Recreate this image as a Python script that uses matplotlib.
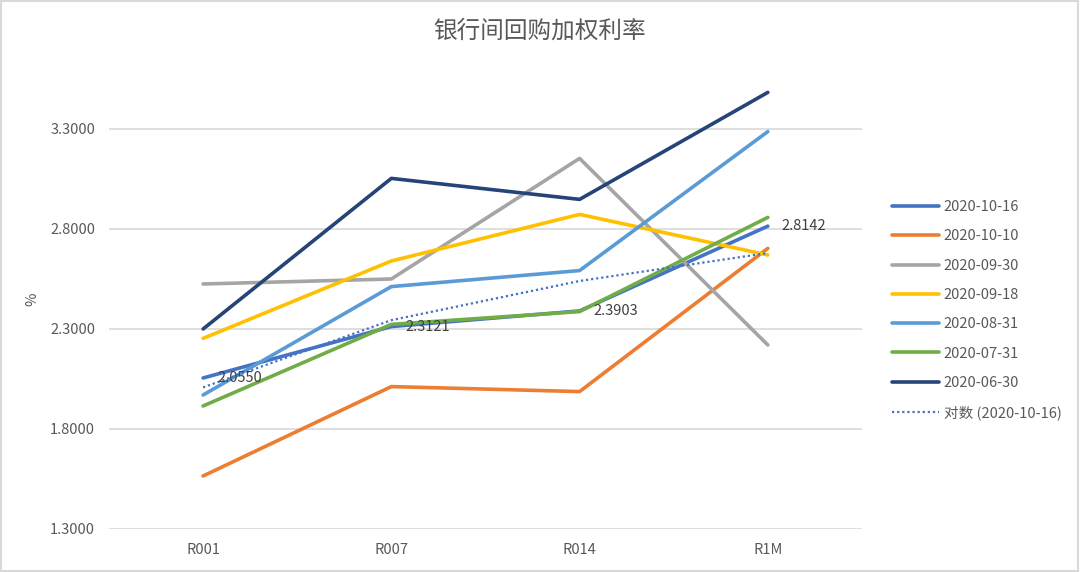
import matplotlib
matplotlib.use('Agg')
import matplotlib.pyplot as plt
from matplotlib.patches import Rectangle

plt.rcParams['font.family'] = ['Noto Sans CJK SC', 'DejaVu Sans']

# 期限
tenors = ['R001', 'R007', 'R014', 'R1M']

# 各日期加权利率 (%)
r_1016 = [2.0550, 2.3121, 2.3903, 2.8142]
r_1010 = [1.565, 2.012, 1.987, 2.703]
r_0930 = [2.525, 2.550, 3.153, 2.220]
r_0918 = [2.253, 2.640, 2.873, 2.670]
r_0831 = [1.970, 2.512, 2.592, 3.287]
r_0731 = [1.915, 2.323, 2.387, 2.858]
r_0630 = [2.300, 3.053, 2.948, 3.483]
# 对数趋势线 (2020-10-16), 读图
trend_1016 = [2.008, 2.344, 2.540, 2.680]

series_names = ['2020-10-16', '2020-10-10', '2020-09-30', '2020-09-18',
                '2020-08-31', '2020-07-31', '2020-06-30']
series_vals = [r_1016, r_1010, r_0930, r_0918, r_0831, r_0731, r_0630]
colors = ['#4472C4', '#ED7D31', '#A5A5A5', '#FFC000',
          '#5B9BD5', '#70AD47', '#264478']

fig = plt.figure(figsize=(10.8, 5.72), dpi=100)
ax = fig.add_axes([0.1009, 0.0752, 0.6972, 0.8042])

x = list(range(len(tenors)))
for name, vals, c in zip(series_names, series_vals, colors):
    ax.plot(x, vals, color=c, lw=2.6, label=name, solid_capstyle='round')
ax.plot(x, trend_1016, color='#4472C4', lw=1.6, ls=(0, (1, 1.3)),
        label='对数 (2020-10-16)')

for xi, v in zip(x, r_1016):
    ax.annotate(f'{v:.4f}', (xi, v), xytext=(10, 0), textcoords='offset points',
                ha='left', va='center', fontsize=10.5, color='#404040')

ax.set_xlim(-0.5, 3.5)
ax.set_ylim(1.3, 3.6)
ax.set_xticks(x)
ax.set_xticklabels(tenors)
ax.set_yticks([1.3, 1.8, 2.3, 2.8, 3.3])
ax.set_yticklabels(['1.3000', '1.8000', '2.3000', '2.8000', '3.3000'])
ax.tick_params(length=0, labelsize=10.5, labelcolor='#595959', pad=10)
ax.grid(axis='y', color='#D9D9D9', lw=1.2)
ax.set_axisbelow(True)
for s in ax.spines.values():
    s.set_visible(False)

ax.set_ylabel('%', color='#595959', fontsize=10.5, labelpad=8)

fig.text(0.5, 0.945, '银行间回购加权利率', ha='center', va='center',
         fontsize=17, color='#595959')

leg = ax.legend(loc='center left', bbox_to_anchor=(1.0225, 0.476), frameon=False,
                fontsize=10.5, handlelength=3.2, labelspacing=1.05,
                handletextpad=0.35)
for t in leg.get_texts():
    t.set_color('#595959')

fig.patches.append(Rectangle((0.001, 0.002), 0.997, 0.996, transform=fig.transFigure,
                             fill=False, edgecolor='#D9D9D9', lw=1.5))

plt.savefig('out.png', dpi=100)
